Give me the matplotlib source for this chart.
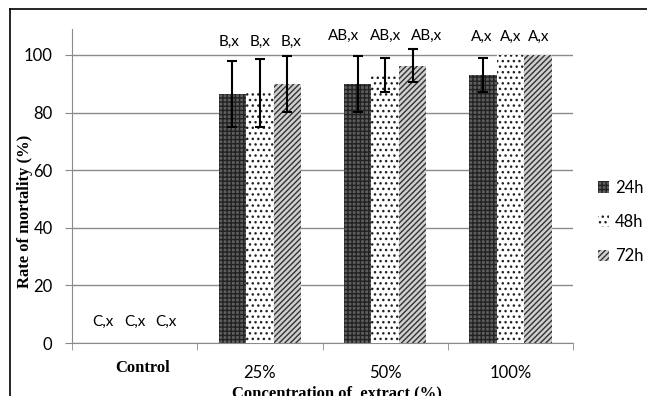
import matplotlib
matplotlib.use('Agg')
import matplotlib.pyplot as plt
from matplotlib.patches import Patch
from matplotlib.lines import Line2D
from matplotlib.transforms import ScaledTranslation
import numpy as np

# Data
categories = ['Control', '25%', '50%', '100%']
series_names = ['24h', '48h', '72h']
mort_24h = [0, 86.5, 89.9, 93.0]
mort_48h = [0, 86.8, 93.0, 100]
mort_72h = [0, 89.9, 96.3, 100]
err_24h = [0, 11.5, 9.8, 5.9]
err_48h = [0, 11.7, 5.9, 0]
err_72h = [0, 9.8, 5.7, 0]
letters_24h = ['C,x', 'B,x', 'AB,x', 'A,x']
letters_48h = ['C,x', 'B,x', 'AB,x', 'A,x']
letters_72h = ['C,x', 'B,x', 'AB,x', 'A,x']
letter_y = [7.3, 104.5, 106.6, 106.3]
letter_spread = [0.25, 0.25, 0.33, 0.23]

means = [mort_24h, mort_48h, mort_72h]
errs = [err_24h, err_48h, err_72h]
letters = [letters_24h, letters_48h, letters_72h]

# bar looks (dark checker, dots, diagonal hatch)
styles = [
    dict(color='#5e5e5e', edgecolor='#222222', hatch='++++'),
    dict(color='white', edgecolor='#222222', hatch='...'),
    dict(color='#cfcfcf', edgecolor='#333333', hatch='//////'),
]

sans = ['Lato', 'DejaVu Sans']
serif = ['Liberation Serif', 'DejaVu Serif']
plt.rcParams['font.family'] = sans
plt.rcParams['hatch.linewidth'] = 1.0

fig = plt.figure(figsize=(6.47, 3.96), dpi=100)
ax = fig.add_axes([72/647, 1-343/396, (573-72)/647, (343-29)/396])

x = np.arange(len(categories))
width = 0.22
for i in range(3):
    ax.bar(x + (i-1)*width, means[i], width, linewidth=0, zorder=3, **styles[i])
    e = np.array(errs[i])
    m = np.array(means[i])
    show = e > 0
    ax.errorbar(x[show] + (i-1)*width, m[show], yerr=e[show], fmt='none',
                ecolor='black', elinewidth=1.5, capsize=3.5, capthick=1.5, zorder=4)
    for j in range(len(categories)):
        ax.text(x[j] + (i-1)*letter_spread[j], letter_y[j], letters[i][j],
                ha='center', va='center', fontsize=11, zorder=5)

ax.set_xlim(-0.5, 3.5)
ax.set_ylim(0, 109)
ax.set_yticks([0, 20, 40, 60, 80, 100])
ax.yaxis.grid(True, color='#8a8a8a', linewidth=1)
ax.set_axisbelow(True)
for s in ['top', 'right']:
    ax.spines[s].set_visible(False)
for s in ['left', 'bottom']:
    ax.spines[s].set_color('#8a8a8a')
ax.tick_params(axis='y', length=5, color='#8a8a8a', labelsize=12, pad=9)

ax.set_xticks(x)
ax.set_xticklabels(categories, fontsize=12)
ax.set_xticks(np.arange(-0.5, 4.0, 1.0), minor=True)
ax.tick_params(axis='x', which='major', length=0, pad=16)
ax.tick_params(axis='x', which='minor', length=5, color='#8a8a8a')

ctrl = ax.get_xticklabels()[0]
ctrl.set_fontfamily(serif)
ctrl.set_fontweight('bold')
ctrl.set_fontsize(12)
ctrl.set_transform(ctrl.get_transform() + ScaledTranslation(0.08, 0.05, fig.dpi_scale_trans))

ax.set_ylabel('Rate of mortality (%)', family=serif, fontweight='bold', fontsize=12)
ax.yaxis.set_label_coords(-0.077, 0.42)
fig.text(337/647, 1-385/396, 'Concentration of  extract (%)', family=serif,
         fontweight='bold', fontsize=12, ha='center', va='top')

handles = [Patch(facecolor=st['color'], edgecolor=st['edgecolor'], hatch=st['hatch'], linewidth=0)
           for st in styles]
fig.legend(handles, series_names, loc='center left', bbox_to_anchor=(586/647, 1-222/396),
           frameon=False, fontsize=12, handlelength=0.7, handleheight=0.7,
           handletextpad=0.35, labelspacing=1.1, borderpad=0.2)

# outer frame (left and top edges)
fig.add_artist(Line2D([10/647, 1], [1-9/396, 1-9/396], color='black', linewidth=1.2))
fig.add_artist(Line2D([10/647, 10/647], [0, 1-9/396], color='black', linewidth=1.2))

fig.savefig('out.png', dpi=100)
